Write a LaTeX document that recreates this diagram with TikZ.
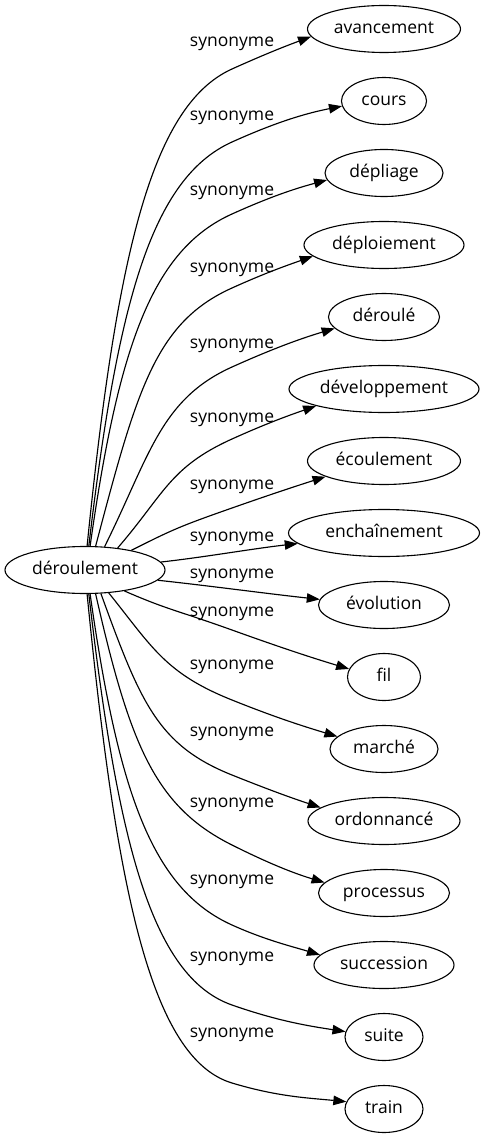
\documentclass[tikz,border=0pt]{standalone}
\usepackage{fontspec}
\setmainfont{Open Sans}
\usetikzlibrary{shapes.geometric,arrows.meta}
\begin{document}
\begin{tikzpicture}[x=1pt,y=-1pt,
  word/.style={ellipse, draw=black, line width=1.1pt, inner sep=0pt,
    minimum height=47pt, text height=12.5pt, text depth=3.5pt,
    font=\fontsize{17.5}{21}\selectfont},
  lab/.style={inner sep=0pt, text height=12.5pt, text depth=3.5pt,
    font=\fontsize{17.5}{21}\selectfont},
  syn/.style={draw=black, line width=1.15pt, -{Triangle[length=13pt,width=9.5pt]}}]
\useasboundingbox (0,0) rectangle (484,1139);

% source
\node[word, minimum width=160pt] (d) at (85,570) {déroulement};

% targets
\node[word, minimum width=153pt] (t1)  at (384,29)   {avancement};
\node[word, minimum width=85pt]  (t2)  at (384,101)  {cours};
\node[word, minimum width=118pt] (t3)  at (384,173)  {dépliage};
\node[word, minimum width=160pt] (t4)  at (384,245)  {déploiement};
\node[word, minimum width=111pt] (t5)  at (384,317)  {déroulé};
\node[word, minimum width=190pt] (t6)  at (384,389)  {développement};
\node[word, minimum width=153pt] (t7)  at (384,461)  {écoulement};
\node[word, minimum width=191pt] (t8)  at (384,533)  {enchaînement};
\node[word, minimum width=131pt] (t9)  at (384,605)  {évolution};
\node[word, minimum width=73pt]  (t10) at (384,677)  {fil};
\node[word, minimum width=108pt] (t11) at (384,749)  {marché};
\node[word, minimum width=152pt] (t12) at (384,821)  {ordonnancé};
\node[word, minimum width=131pt] (t13) at (384,893)  {processus};
\node[word, minimum width=140pt] (t14) at (384,965)  {succession};
\node[word, minimum width=78pt]  (t15) at (384,1037) {suite};
\node[word, minimum width=78pt]  (t16) at (384,1109) {train};

% labels
\node[lab] (l1)  at (232,42)   {synonyme};
\node[lab] (l2)  at (232,116)  {synonyme};
\node[lab] (l3)  at (232,191)  {synonyme};
\node[lab] (l4)  at (232,268)  {synonyme};
\node[lab] (l5)  at (232,344)  {synonyme};
\node[lab] (l6)  at (232,418)  {synonyme};
\node[lab] (l7)  at (232,485)  {synonyme};
\node[lab] (l8)  at (232,537)  {synonyme};
\node[lab] (l9)  at (232,574)  {synonyme};
\node[lab] (l10) at (232,612)  {synonyme};
\node[lab] (l11) at (232,665)  {synonyme};
\node[lab] (l12) at (232,732)  {synonyme};
\node[lab] (l13) at (232,803)  {synonyme};
\node[lab] (l14) at (232,880)  {synonyme};
\node[lab] (l15) at (232,957)  {synonyme};
\node[lab] (l16) at (232,1033) {synonyme};

% way points
\coordinate (m1)  at (232,69);
\coordinate (m2)  at (232,142);
\coordinate (m3)  at (232,214);
\coordinate (m4)  at (232,288);
\coordinate (m5)  at (232,367);
\coordinate (m6)  at (232,439);
\coordinate (m7)  at (232,508);
\coordinate (m10) at (232,630);
\coordinate (m11) at (232,700);
\coordinate (m12) at (232,775);
\coordinate (m13) at (232,845);
\coordinate (m14) at (232,925);
\coordinate (m15) at (232,1005);
\coordinate (m16) at (232,1083);

% edges
\draw[syn] (d.85) .. controls +(29,-287) and +(-81.6,36.8) .. (m1)
  .. controls +(32,-14.4) and +(-26.7,9.9) .. (t1.186);
\draw[syn] (d.81) .. controls +(28.7,-243) and +(-80.8,36.4) .. (m2)
  .. controls +(44,-19.8) and +(-36.7,7.3) .. (t2.187);
\draw[syn] (d.78) .. controls +(28.4,-200) and +(-79.9,36) .. (m3)
  .. controls +(38.4,-17.3) and +(-32,8.6) .. (t3.187);
\draw[syn] (d.66) .. controls +(41.1,-155.4) and +(-77.1,34.6) .. (m4)
  .. controls +(32.8,-14.8) and +(-27.3,9.6) .. (t4.189);
\draw[syn] (d.50) .. controls +(44.8,-90) and +(-72,32.4) .. (m5)
  .. controls +(41.2,-18.5) and +(-34.3,10.3) .. (t5.193);
\draw[syn] (d.34) .. controls +(46.4,-53.5) and +(-62.6,28.2) .. (m6)
  .. controls +(34.4,-15.5) and +(-28.7,10) .. (t6.194);
\draw[syn] (d.23) .. controls +(40.8,-20.5) and +(-52.8,18.5) .. (m7)
  .. controls +(37.6,-13.2) and +(-31.3,10) .. (t7.195);
\draw[syn] (d.6) .. controls +(45,-5) and +(-45,5) .. (t8.187);
\draw[syn] (d.-8) .. controls +(55,6) and +(-55,-6) .. (t9.175);
\draw[syn] (d.-28) .. controls +(43.6,19) and +(-56.4,-20.2) .. (m10)
  .. controls +(45,16.2) and +(-39.3,-11.8) .. (t10.167);
\draw[syn] (d.-44) .. controls +(43.4,54) and +(-67,-26.8) .. (m11)
  .. controls +(42.4,17) and +(-35.3,-10.6) .. (t11.165);
\draw[syn] (d.-56) .. controls +(39.6,109) and +(-74.3,-29.7) .. (m12)
  .. controls +(36,14.4) and +(-30,-9.9) .. (t12.168);
\draw[syn] (d.-66) .. controls +(34.3,151) and +(-77.1,-38.5) .. (m13)
  .. controls +(36.8,18.4) and +(-30.7,-9.2) .. (t13.170);
\draw[syn] (d.-78) .. controls +(28.4,199) and +(-79.9,-36) .. (m14)
  .. controls +(33.6,15.1) and +(-28,-8.4) .. (t14.171);
\draw[syn] (d.-81) .. controls +(28.7,247) and +(-80.8,-28.3) .. (m15)
  .. controls +(45.2,15.8) and +(-37.7,-5.7) .. (t15.172);
\draw[syn] (d.-85) .. controls +(29,294) and +(-81.6,-24.5) .. (m16)
  .. controls +(46,13.8) and +(-38.3,-3.8) .. (t16.169);
\end{tikzpicture}
\end{document}
